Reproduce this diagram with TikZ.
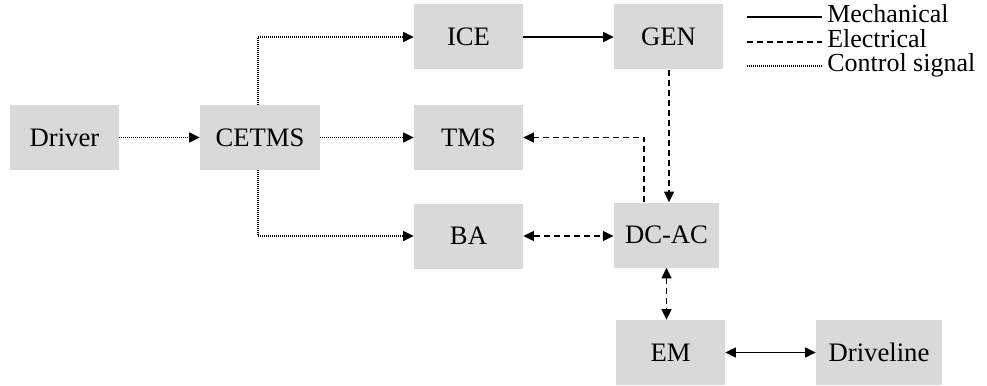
\documentclass[tikz,border=0pt]{standalone}
\usepackage{fontspec}
\setmainfont{Liberation Serif}
\usetikzlibrary{arrows.meta}
\definecolor{boxgray}{RGB}{217,217,217}
\begin{document}
\begin{tikzpicture}[x=0.75pt,y=-0.75pt,
  block/.style={fill=boxgray,draw=none,inner sep=0pt,minimum width=81.75pt,minimum height=48.75pt,
    font=\fontsize{20}{24}\selectfont},
  mech/.style={line width=1.1pt},
  elec/.style={line width=1.1pt,dash pattern=on 4.5pt off 3pt},
  ctrl/.style={line width=1.1pt,dash pattern=on 0.75pt off 0.75pt},
  tip/.style={-{Triangle[length=8pt,width=7.5pt]}},
  twotip/.style={{Triangle[length=8pt,width=7.5pt]}-{Triangle[length=8pt,width=7.5pt]}},
  legtext/.style={anchor=west,inner sep=0pt,text height=12.5pt,text depth=4pt,
    font=\fontsize{19.5}{23}\selectfont}]
\useasboundingbox (0,0) rectangle (987,385);

% blocks
\node[block] (driver) at (64.5,137.5) {Driver};
\node[block,minimum width=90pt] (cetms) at (260,137.5) {CETMS};
\node[block] (ice) at (468.5,37) {ICE};
\node[block] (gen) at (668.5,37) {GEN};
\node[block] (tms) at (468.5,137.5) {TMS};
\node[block] (ba) at (468.5,236) {BA};
\node[block,minimum width=79pt] (dcac) at (666.5,235) {DC-AC};
\node[block] (em) at (670.5,352.5) {EM};
\node[block,minimum width=94.5pt] (drive) at (879,352.5) {Driveline};

% control signals
\coordinate (cx) at (258,0);
\draw[ctrl,tip] (driver.east) -- (cetms.west);
\draw[ctrl,tip] (cetms.east) -- (tms.west);
\draw[ctrl,tip] (cx |- cetms.north) |- (ice.west);
\draw[ctrl,tip] (cx |- cetms.south) |- (ba.west);

% mechanical links
\draw[mech,tip] (ice.east) -- (gen.west);
\draw[mech,twotip] (em.east) -- (drive.west);

% electrical links
\coordinate (gx) at (669,0);
\coordinate (tx) at (644,0);
\draw[elec,tip] (gx |- gen.south) -- (gx |- dcac.north);
\draw[elec,tip] (tx |- dcac.north) |- (tms.east);
\draw[elec,twotip] (ba.east) -- (ba.east -| dcac.west);
\draw[elec,twotip] (dcac.south) -- (dcac.south |- em.north);

% legend
\coordinate (l1a) at (747,17);  \coordinate (l1b) at (822,17);
\coordinate (l2a) at (747,42);  \coordinate (l2b) at (822,42);
\coordinate (l3a) at (747,66);  \coordinate (l3b) at (822,66);
\draw[mech] (l1a) -- (l1b);
\draw[elec] (l2a) -- (l2b);
\draw[ctrl] (l3a) -- (l3b);
\node[legtext] (lmech) at (827,17) {Mechanical};
\node[legtext] (lelec) at (827,42) {Electrical};
\node[legtext] (lctrl) at (827,66) {Control signal};
\end{tikzpicture}
\end{document}
